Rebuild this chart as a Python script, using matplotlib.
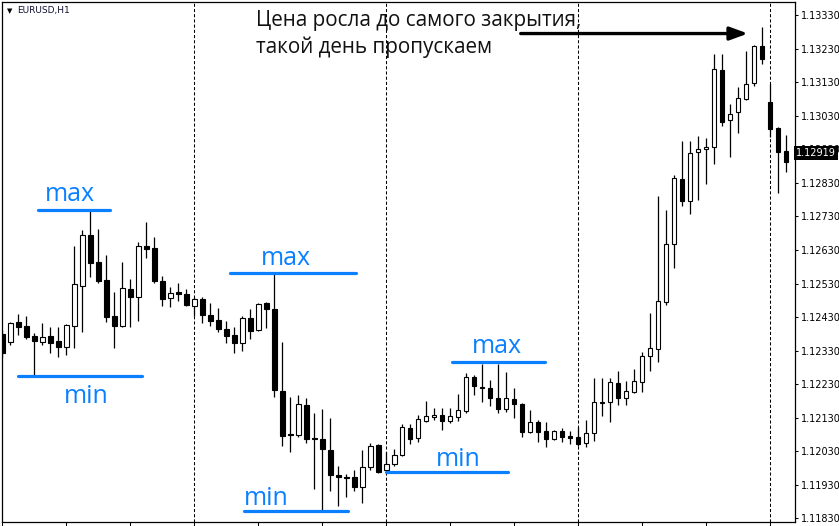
import numpy as np
import matplotlib
matplotlib.use("Agg")
import matplotlib.pyplot as plt
from matplotlib import transforms

# EURUSD H1 bars, oldest first
opens = [
    1.12380, 1.12356, 1.12415, 1.12403, 1.12374, 1.12356, 1.12374, 1.12359, 1.12341, 1.12403,
    1.12523, 1.12675, 1.12594, 1.12541, 1.12433, 1.12403, 1.12514, 1.12490, 1.12642, 1.12636,
    1.12538, 1.12487, 1.12505, 1.12499, 1.12463, 1.12484, 1.12436, 1.12421, 1.12395, 1.12377,
    1.12353, 1.12427, 1.12392, 1.12472, 1.12454, 1.12210, 1.12082, 1.12079, 1.12168, 1.12070,
    1.12067, 1.12034, 1.11960, 1.11954, 1.11954, 1.11924, 1.11983, 1.12049, 1.11974, 1.11992,
    1.12019, 1.12100, 1.12070, 1.12120, 1.12132, 1.12138, 1.12120, 1.12132, 1.12150, 1.12251,
    1.12222, 1.12219, 1.12189, 1.12156, 1.12186, 1.12171, 1.12088, 1.12117, 1.12091, 1.12067,
    1.12091, 1.12076, 1.12073, 1.12055, 1.12085, 1.12174, 1.12177, 1.12234, 1.12189, 1.12207,
    1.12237, 1.12314, 1.12335, 1.12475, 1.12648, 1.12842, 1.12776, 1.12922, 1.12931, 1.12937,
    1.13166, 1.13017, 1.13041, 1.13080, 1.13128, 1.13238, 1.13071, 1.12994, 1.12925]

highs = [
    1.12392, 1.12415, 1.12439, 1.12433, 1.12383, 1.12412, 1.12400, 1.12400, 1.12409, 1.12642,
    1.12690, 1.12746, 1.12693, 1.12615, 1.12505, 1.12594, 1.12544, 1.12654, 1.12713, 1.12669,
    1.12553, 1.12520, 1.12532, 1.12514, 1.12490, 1.12490, 1.12472, 1.12457, 1.12418, 1.12400,
    1.12433, 1.12454, 1.12472, 1.12475, 1.12561, 1.12356, 1.12192, 1.12198, 1.12189, 1.12144,
    1.12156, 1.12129, 1.11986, 1.11963, 1.11974, 1.12034, 1.12055, 1.12052, 1.12028, 1.12037,
    1.12112, 1.12112, 1.12138, 1.12180, 1.12159, 1.12159, 1.12159, 1.12201, 1.12263, 1.12257,
    1.12290, 1.12243, 1.12290, 1.12266, 1.12219, 1.12174, 1.12153, 1.12123, 1.12117, 1.12094,
    1.12100, 1.12091, 1.12103, 1.12123, 1.12249, 1.12249, 1.12249, 1.12269, 1.12240, 1.12275,
    1.12326, 1.12442, 1.12791, 1.12749, 1.12854, 1.12955, 1.12955, 1.12970, 1.12964, 1.13214,
    1.13214, 1.13065, 1.13116, 1.13223, 1.13241, 1.13295, 1.13125, 1.12997, 1.12973]

lows = [
    1.12308, 1.12347, 1.12377, 1.12365, 1.12254, 1.12347, 1.12323, 1.12311, 1.12317, 1.12338,
    1.12386, 1.12550, 1.12532, 1.12415, 1.12338, 1.12400, 1.12400, 1.12418, 1.12606, 1.12532,
    1.12463, 1.12460, 1.12478, 1.12463, 1.12433, 1.12412, 1.12403, 1.12386, 1.12353, 1.12323,
    1.12329, 1.12365, 1.12389, 1.12397, 1.12192, 1.12046, 1.12028, 1.12073, 1.12055, 1.11918,
    1.11855, 1.11912, 1.11867, 1.11894, 1.11912, 1.11876, 1.11974, 1.11965, 1.11968, 1.11986,
    1.12016, 1.12052, 1.12058, 1.12117, 1.12123, 1.12094, 1.12114, 1.12120, 1.12144, 1.12198,
    1.12177, 1.12165, 1.12144, 1.12147, 1.12129, 1.12073, 1.12085, 1.12058, 1.12043, 1.12064,
    1.12058, 1.12052, 1.12046, 1.12043, 1.12061, 1.12135, 1.12117, 1.12168, 1.12168, 1.12204,
    1.12207, 1.12269, 1.12296, 1.12466, 1.12576, 1.12761, 1.12737, 1.12779, 1.12827, 1.12886,
    1.13000, 1.12907, 1.12979, 1.13077, 1.13119, 1.13184, 1.12967, 1.12800, 1.12862]

closes = [
    1.12323, 1.12412, 1.12400, 1.12371, 1.12359, 1.12371, 1.12353, 1.12341, 1.12406, 1.12529,
    1.12675, 1.12591, 1.12538, 1.12430, 1.12403, 1.12517, 1.12490, 1.12642, 1.12633, 1.12538,
    1.12484, 1.12502, 1.12499, 1.12466, 1.12484, 1.12436, 1.12418, 1.12395, 1.12374, 1.12353,
    1.12427, 1.12389, 1.12469, 1.12454, 1.12213, 1.12076, 1.12079, 1.12171, 1.12067, 1.12067,
    1.12037, 1.11960, 1.11954, 1.11952, 1.11924, 1.11983, 1.12046, 1.11968, 1.11992, 1.12019,
    1.12103, 1.12067, 1.12126, 1.12135, 1.12138, 1.12120, 1.12135, 1.12153, 1.12251, 1.12225,
    1.12219, 1.12189, 1.12156, 1.12189, 1.12171, 1.12088, 1.12117, 1.12088, 1.12067, 1.12091,
    1.12073, 1.12070, 1.12052, 1.12085, 1.12177, 1.12177, 1.12237, 1.12189, 1.12210, 1.12240,
    1.12314, 1.12338, 1.12478, 1.12648, 1.12845, 1.12776, 1.12919, 1.12931, 1.12937, 1.13169,
    1.13011, 1.13035, 1.13083, 1.13125, 1.13238, 1.13199, 1.12991, 1.12922, 1.12892]

bid = 1.12919
price_ticks = [1.11830 + 0.001 * i for i in range(16)]
day_starts = [24, 48, 72, 96]

# blue swing marks: (label, first bar, last bar, level, text bar, text price)
swing_marks = [
    ("max", 4.4, 13.4, 1.12749, 8.5, 1.12776),
    ("min", 2.0, 17.5, 1.12254, 10.5, 1.12174),
    ("max", 28.5, 44.2, 1.12561, 35.5, 1.12585),
    ("min", 30.2, 43.2, 1.11852, 33.0, 1.11870),
    ("max", 56.2, 67.8, 1.12296, 61.8, 1.12323),
    ("min", 48.0, 63.2, 1.11968, 57.0, 1.11986),
]
note_lines = ["Цена росла до самого закрытия,", "такой день пропускаем"]

BLUE = "#0a80ff"

fig = plt.figure(figsize=(8.39, 5.26), dpi=100)
ax = fig.add_axes([2 / 839, 4 / 526, 793 / 839, 520 / 526])

x = np.arange(len(opens))
o = np.array(opens)
c = np.array(closes)
up = c >= o
body_low = np.minimum(o, c)
body_h = np.maximum(np.abs(c - o), 0.000008)

for d in day_starts:
    ax.axvline(d, color="black", lw=0.75, ls=(0, (3, 2)), zorder=1)

ax.vlines(x, lows, highs, color="black", lw=0.9, zorder=2)
ax.bar(x, body_h, bottom=body_low, width=0.55,
       color=np.where(up, "white", "black"), edgecolor="black",
       linewidth=0.8, zorder=3)

for label, x0, x1, lvl, tx, ty in swing_marks:
    ax.plot([x0, x1], [lvl, lvl], color=BLUE, lw=2.3,
            solid_capstyle="round", zorder=4)
    ax.text(tx, ty, label, color=BLUE, fontsize=18, family="Open Sans",
            ha="center", va="baseline", zorder=5)

ax.text(31.7, 1.13298, note_lines[0], fontsize=14.9, family="Open Sans",
        color="#111111", va="baseline", ha="left", zorder=5)
ax.text(31.7, 1.13216, note_lines[1], fontsize=14.9, family="Open Sans",
        color="#111111", va="baseline", ha="left", zorder=5)
ax.annotate("", xy=(93.2, 1.13275), xytext=(64.8, 1.13275),
            arrowprops=dict(arrowstyle="-|>,head_length=0.6,head_width=0.22",
                            color="black", lw=2.4, mutation_scale=18,
                            shrinkA=0, shrinkB=0), zorder=5)

ax.set_xlim(-0.04, 99.09)
ax.set_ylim(1.118194, 1.133690)

ax.yaxis.tick_right()
ax.set_yticks(price_ticks)
ax.set_yticklabels([f"{p:.5f}" for p in price_ticks])
ax.set_xticks(range(0, 99, 8))
ax.set_xticklabels([])
ax.tick_params(axis="y", direction="out", length=2.5, width=0.75,
               labelsize=7, pad=1.5, colors="black")
ax.tick_params(axis="x", direction="out", length=3, width=0.75)
for s in ax.spines.values():
    s.set_linewidth(0.9)
    s.set_color("black")

# current bid price box on the price scale, drawn over the 1.12930 label
trans = transforms.blended_transform_factory(ax.transAxes, ax.transData)
ax.text(1.0015, bid, f"{bid:.5f}", transform=trans, color="white",
        fontsize=7, ha="left", va="center", clip_on=False, zorder=10,
        bbox=dict(facecolor="black", edgecolor="none", pad=1.6))

# symbol header
ax.text(0.006, 0.983, "▼", transform=ax.transAxes, fontsize=5,
        ha="left", va="center", color="black")
ax.text(0.019, 0.983, "EURUSD,H1", transform=ax.transAxes, fontsize=6.5,
        ha="left", va="center", color="#101030")

fig.savefig("out.png", dpi=100)
